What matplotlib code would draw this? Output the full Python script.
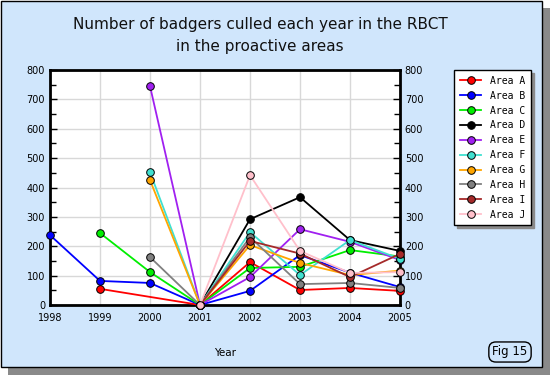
import numpy as np
import matplotlib.pyplot as plt
from matplotlib.patches import Rectangle
from matplotlib.ticker import MultipleLocator

years = [1998, 1999, 2000, 2001, 2002, 2003, 2004, 2005]
nan = np.nan

area_a = [nan, 55, nan, 0, 146, 51, 58, 48]
area_b = [238, 82, 75, 0, 48, 170, 110, 61]
area_c = [nan, 245, 112, 0, 126, 130, 187, 165]
area_d = [nan, nan, nan, 0, 292, 367, 221, 184]
area_e = [nan, nan, 745, 0, 95, 258, 215, 153]
area_f = [nan, nan, 452, 0, 248, 102, 221, 157]
area_g = [nan, nan, 425, 0, 204, 143, 102, 117]
area_h = [nan, nan, 163, 0, 231, 71, 75, 58]
area_i = [nan, nan, nan, 0, 218, 175, 95, 174]
area_j = [nan, nan, nan, 0, 442, 184, 109, 112]

names = ["Area A", "Area B", "Area C", "Area D", "Area E",
         "Area F", "Area G", "Area H", "Area I", "Area J"]
series = [area_a, area_b, area_c, area_d, area_e,
          area_f, area_g, area_h, area_i, area_j]
colors = ["#ff0000", "#0000ff", "#00ee00", "#000000", "#a020f0",
          "#40e0d0", "#ffa500", "#808080", "#a52a2a", "#ffc0cb"]

bg = "#d0e6fc"

fig = plt.figure(figsize=(5.5, 3.75), dpi=100)
fig.patch.set_facecolor("white")

# outer panel with drop shadow
fig.patches.append(Rectangle((8 / 550, 0), 542 / 550, 367 / 375, transform=fig.transFigure,
                             facecolor="#8a8a8a", edgecolor="none", zorder=-10))
fig.patches.append(Rectangle((1 / 550, 8 / 375), 541 / 550, 366 / 375, transform=fig.transFigure,
                             facecolor=bg, edgecolor="black", linewidth=1.0, zorder=-9))

ax = fig.add_axes([50 / 550, 1 - 305 / 375, 350 / 550, 235 / 375])
ax.set_facecolor("white")

yrs = np.array(years)
for name, vals, c in zip(names, series, colors):
    v = np.array(vals, dtype=float)
    m = ~np.isnan(v)
    ax.plot(yrs[m], v[m], color=c, lw=1.3, marker="o", markersize=5.5,
            markeredgecolor="black", markeredgewidth=0.7, label=name,
            clip_on=False, zorder=3)

ax.set_xlim(1998, 2005)
ax.set_ylim(0, 800)
ax.set_xticks(years)
ax.yaxis.set_major_locator(MultipleLocator(100))
ax.yaxis.set_minor_locator(MultipleLocator(50))
ax.grid(True, which="major", color="#d8d8d8", lw=1.0, zorder=0)
ax.set_axisbelow(True)
for s in ax.spines.values():
    s.set_linewidth(2.0)
ax.tick_params(axis="y", which="both", direction="in", left=True, right=True,
               labelleft=True, labelright=True, labelsize=7, length=5, width=1)
ax.tick_params(axis="y", which="minor", length=4)
ax.tick_params(axis="x", length=0, labelsize=7, pad=6)
ax.set_xlabel("Year", fontsize=7.5, labelpad=18)

fig.text(260 / 550, 1 - 24 / 375, "Number of badgers culled each year in the RBCT",
         ha="center", va="center", fontsize=11, color="#111111")
fig.text(260 / 550, 1 - 46 / 375, "in the proactive areas",
         ha="center", va="center", fontsize=11, color="#111111")

leg = fig.legend(loc="upper left", bbox_to_anchor=(454 / 550, 1 - 70 / 375),
                 prop={"family": "DejaVu Sans Mono", "size": 7}, frameon=True,
                 fancybox=False, shadow={"color": "#8a8a8a", "alpha": 1},
                 borderpad=0.6, labelspacing=0.5, handlelength=2.2, handletextpad=0.9,
                 borderaxespad=0)
leg.get_frame().set_edgecolor("black")
leg.get_frame().set_linewidth(1.0)

fig.text(510 / 550, 1 - 352 / 375, "Fig 15", ha="center", va="center", fontsize=8.5,
         bbox=dict(boxstyle="round,pad=0.3,rounding_size=0.6", facecolor=bg,
                   edgecolor="black", lw=1.0))

fig.savefig("out.png", dpi=100, facecolor=fig.get_facecolor())
